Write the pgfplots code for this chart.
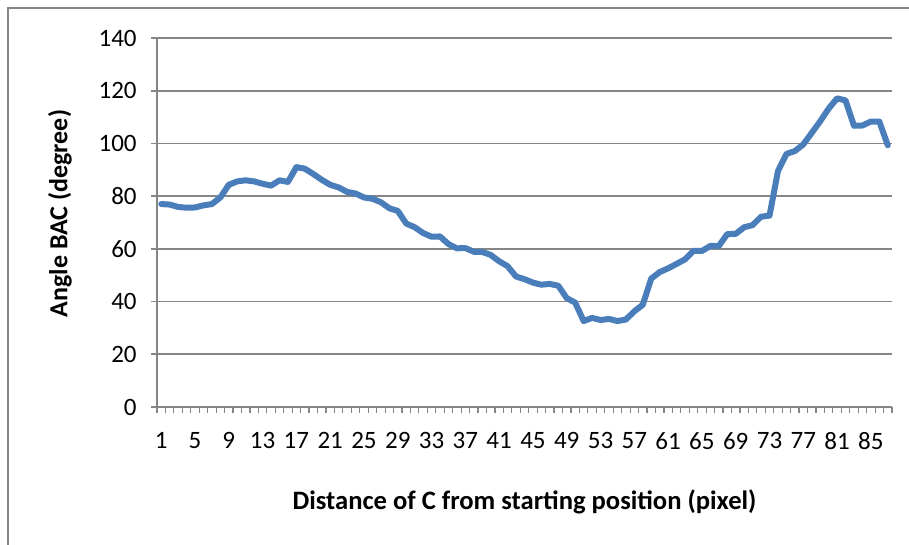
\documentclass[border=0pt]{standalone}
\usepackage{pgfplots}
\pgfplotsset{compat=1.18}
\usepackage{fontspec}
\setmainfont{Carlito}
\definecolor{lineBlue}{RGB}{74,126,187}
\definecolor{gridGray}{RGB}{134,134,134}

\begin{document}
\begin{tikzpicture}
% 1 px of the reference = 0.5pt
\useasboundingbox (0,0) rectangle (454.5pt,272.5pt);
\draw[gridGray, line width=0.8pt] (4pt,0) -- (4pt,268.5pt) -- (454.5pt,268.5pt);
\begin{axis}[
    at={(78.5pt,69pt)}, anchor=south west,
    scale only axis,
    width=367.5pt, height=184.5pt,
    xmin=0.5, xmax=87.5,
    ymin=0, ymax=140,
    axis x line=bottom, axis y line=left,
    axis line style={gridGray, line width=0.8pt, -},
    xtick={1,5,...,85},
    minor xtick={0.5,1.5,...,87.5},
    major x tick style={draw=none},
    minor x tick style={gridGray, line width=0.6pt},
    minor tick length=3pt,
    ytick={0,20,...,140},
    y tick style={gridGray, line width=0.8pt},
    major tick length=3pt,
    tick align=outside,
    ymajorgrids,
    grid style={gridGray, line width=0.8pt},
    /pgf/number format/assume math mode=true,
    ticklabel style={font=\fontsize{12.5}{15}\selectfont, inner sep=0pt},
    xticklabel style={anchor=north, yshift=-9.5pt},
    yticklabel style={anchor=east, xshift=-7pt},
    xlabel={Distance of C from starting position (pixel)},
    ylabel={Angle BAC (degree)},
    every axis x label/.style={at={(axis description cs:0.5,-0.257)}, anchor=center,
        font=\fontsize{13.3}{15}\selectfont\bfseries},
    every axis y label/.style={at={(axis description cs:-0.132,0.524)}, anchor=center, rotate=90,
        font=\fontsize{13}{15}\selectfont\bfseries},
    clip=false,
]
\addplot[lineBlue, line width=3pt, line join=round, line cap=round] coordinates {
(1,77) (2,76.8) (3,75.9) (4,75.6) (5,75.7) (6,76.5) (7,77) (8,79.5) (9,84.3) (10,85.6)
(11,86) (12,85.6) (13,84.7) (14,84) (15,86) (16,85.4) (17,91) (18,90.4) (19,88.4) (20,86.2)
(21,84.3) (22,83.3) (23,81.6) (24,81) (25,79.5) (26,79) (27,77.7) (28,75.4) (29,74.4) (30,69.6)
(31,68.2) (32,66) (33,64.6) (34,64.7) (35,61.8) (36,60.2) (37,60.3) (38,58.9) (39,58.8) (40,57.7)
(41,55.3) (42,53.4) (43,49.5) (44,48.5) (45,47.2) (46,46.4) (47,46.7) (48,46) (49,41.3) (50,39.6)
(51,32.6) (52,33.8) (53,33) (54,33.4) (55,32.6) (56,33.2) (57,36.3) (58,38.8) (59,48.7) (60,51.2)
(61,52.6) (62,54.3) (63,56) (64,59.2) (65,59.2) (66,61.1) (67,61.1) (68,65.6) (69,65.7) (70,68.2)
(71,69) (72,72.2) (73,72.6) (74,89.5) (75,96) (76,97.1) (77,99.6) (78,104) (79,108.4) (80,113.2)
(81,117.1) (82,116.3) (83,106.7) (84,106.8) (85,108.3) (86,108.3) (87,99.3)
};
\end{axis}
\end{tikzpicture}
\end{document}
